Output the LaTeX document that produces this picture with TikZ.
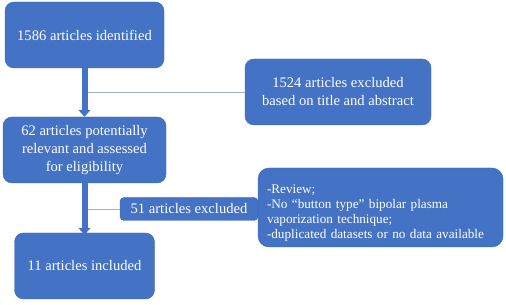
\documentclass[tikz,border=0pt]{standalone}
\usepackage{fontspec}
\setmainfont{Liberation Serif}
\usetikzlibrary{arrows.meta,positioning}
\definecolor{boxblue}{HTML}{4472C4}
\definecolor{boxedge}{HTML}{3A66B5}
\definecolor{linkgray}{HTML}{9DB0C8}

\begin{document}
\begin{tikzpicture}[x=1pt,y=1pt,
  box/.style={draw=boxedge,fill=boxblue,text=white,rounded corners=9pt,align=center,
    font=\fontsize{14.6}{18}\selectfont},
  flow/.style={draw=boxblue,line width=6pt,-{Triangle[width=12pt,length=7pt]}},
  link/.style={draw=linkgray,line width=0.8pt}]
  \useasboundingbox (0,0) rectangle (506,305);
  % main column
  \node[box,minimum width=159pt,minimum height=66pt] (ident) at (84.5,270) {1586 articles identified};
  \node[box,minimum width=163pt,minimum height=66pt] (assess) at (84.5,155)
    {62 articles potentially\\relevant and assessed\\for eligibility};
  \node[box,minimum width=140pt,minimum height=66pt] (incl) at (84.5,39) {11 articles included};
  % exclusions
  \node[box,minimum width=186pt,minimum height=66pt] (title) at (338,213)
    {1524 articles excluded\\based on title and abstract};
  \node[box,rounded corners=4pt,inner ysep=2pt,minimum width=138pt,minimum height=23pt] (excl) at (189,96)
    {51 articles excluded};
  \node[box,rounded corners=11pt,align=left,text width=227pt,inner xsep=9pt,minimum height=79pt,
    font=\fontsize{13.2}{15}\selectfont] (reason) at (380.5,97.5)
    {\rule{0pt}{19pt}-Review;\\-No “button type” bipolar plasma\\vaporization technique;\\-duplicated datasets or no data available};
  \draw[link] (title.west) -- (title.west -| ident.south);
  \draw[link] (excl.west) -- (excl.west -| assess.south);
  \draw[flow] (ident.south) -- (assess.north);
  \draw[flow] (assess.south) -- ([yshift=-2pt]incl.north);
\end{tikzpicture}
\end{document}
